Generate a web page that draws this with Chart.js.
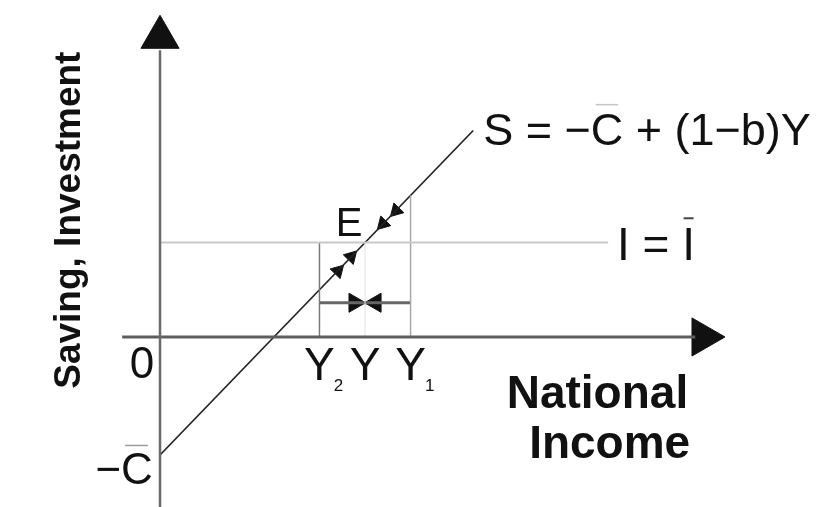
<!DOCTYPE html>
<html>
<head>
<meta charset="utf-8">
<script src="https://cdn.jsdelivr.net/npm/chart.js@4.4.1/dist/chart.umd.min.js"></script>
<style>
  html, body { margin: 0; padding: 0; background: #fff; }
  #chart { display: block; }
</style>
</head>
<body>
<canvas id="chart" width="822" height="507"></canvas>
<script>
// Saving line S = -C + (1-b)Y against autonomous investment I
const sLineIncome = [0, 110];
const sLineSaving = [-10, 17.5];
const investment = 8;
const investmentEnd = 157.4;

// Y2, Y (equilibrium), Y1
const incomeLevels = [56, 72, 88];
const incomeSubs = ['2', '', '1'];
const guideTops = [8, 8, 12];
const gapLevel = 2.9;

// arrowheads moving along the saving line
const upIncome = [62.5, 67.1];
const upSaving = [5.6, 6.8];
const downIncome = [78.3, 82.9];
const downSaving = [9.6, 10.7];

// axes
const yAxisSpan = [-14.5, 24.3];
const xAxisSpan = [-13.3, 188];
const yArrowAt = 25.4;
const xArrowAt = 190.7;

const FONT = "'Liberation Sans', Arial, sans-serif";

function pts(xs, ys) {
  return xs.map((x, i) => ({ x: x, y: ys[i] }));
}

function lineSet(data, color, width, dash) {
  return {
    data: data,
    showLine: true,
    borderColor: color,
    borderWidth: width,
    borderDash: dash || [],
    pointRadius: 0,
    pointHoverRadius: 0,
    fill: false
  };
}

function arrowSet(data, rotation, radius) {
  return {
    data: data,
    showLine: false,
    pointStyle: 'triangle',
    pointRotation: rotation,
    pointRadius: radius,
    pointHoverRadius: radius,
    pointBackgroundColor: '#111',
    pointBorderColor: '#111',
    pointBorderWidth: 1
  };
}

const datasets = [
  lineSet(pts([0, 0], yAxisSpan), '#6a6a6a', 2.5),
  lineSet(pts(xAxisSpan, [0, 0]), '#5e5e5e', 3),
  lineSet(pts([0, investmentEnd], [investment, investment]), '#c9c9c9', 2),
  lineSet(pts([incomeLevels[0], incomeLevels[0]], [0, guideTops[0]]), '#7a7a7a', 1.5),
  lineSet(pts([incomeLevels[1], incomeLevels[1]], [0, guideTops[1]]), '#e2e2e2', 1),
  lineSet(pts([incomeLevels[2], incomeLevels[2]], [0, guideTops[2]]), '#a8a8a8', 1.5),
  lineSet(pts([incomeLevels[0], incomeLevels[2]], [gapLevel, gapLevel]), '#666', 3),
  lineSet(pts(sLineIncome, sLineSaving), '#222', 1.7),
  arrowSet(pts(upIncome, upSaving), 44, 8),
  arrowSet(pts(downIncome, downSaving), 224, 8),
  arrowSet([{ x: 68.3, y: gapLevel }], 90, 11),
  arrowSet([{ x: 75.7, y: gapLevel }], 270, 11),
  arrowSet([{ x: 0, y: yArrowAt }], 0, 22),
  arrowSet([{ x: xArrowAt, y: 0 }], 90, 22)
];

// text placed in data coordinates
const labelPlugin = {
  id: 'diagramLabels',
  afterDatasetsDraw(chart) {
    const ctx = chart.ctx;
    const px = v => chart.scales.x.getPixelForValue(v);
    const py = v => chart.scales.y.getPixelForValue(v);

    function bar(x0, x1, y, color, w) {
      ctx.save();
      ctx.strokeStyle = color;
      ctx.lineWidth = w;
      ctx.beginPath();
      ctx.moveTo(x0, y);
      ctx.lineTo(x1, y);
      ctx.stroke();
      ctx.restore();
    }

    ctx.save();
    ctx.fillStyle = '#111';
    ctx.textBaseline = 'alphabetic';

    // saving function
    ctx.font = '45px ' + FONT;
    ctx.textAlign = 'left';
    let x = px(113.5), y = py(16.3);
    ctx.fillText('S = \u2212C + (1\u2212b)Y', x, y);
    let pre = ctx.measureText('S = \u2212').width;
    let cw = ctx.measureText('C').width;
    bar(x + pre + 5, x + pre + cw - 5, y - 40, '#c4c4c4', 1.5);

    // investment
    ctx.font = '46px ' + FONT;
    x = px(160.5); y = py(6.5);
    ctx.fillText('I = I', x, y);
    pre = ctx.measureText('I = ').width;
    const iw = ctx.measureText('I').width;
    bar(x + pre + iw / 2 - 5, x + pre + iw / 2 + 5, y - 42, '#444', 2);

    // equilibrium
    ctx.font = '40px ' + FONT;
    ctx.textAlign = 'center';
    ctx.fillText('E', px(66.4), py(8.56));

    // origin and intercept
    ctx.font = '44px ' + FONT;
    ctx.fillText('0', px(-6.3), py(-3.47));
    ctx.textAlign = 'right';
    x = px(-2.5); y = py(-12.5);
    ctx.fillText('\u2212C', x, y);
    cw = ctx.measureText('C').width;
    bar(x - cw + 4, x - 5, y - 39, '#9a9a9a', 1.5);

    // income levels
    incomeLevels.forEach((lvl, i) => {
      ctx.font = '46px ' + FONT;
      ctx.textAlign = 'center';
      const cx = px(lvl), by = py(-3.64);
      ctx.fillText('Y', cx, by);
      if (incomeSubs[i]) {
        const yw = ctx.measureText('Y').width;
        ctx.font = '17px ' + FONT;
        ctx.textAlign = 'left';
        ctx.fillText(incomeSubs[i], cx + yw / 2 - 1, by + 11);
      }
    });

    // axis titles
    ctx.font = 'bold 46px ' + FONT;
    ctx.textAlign = 'right';
    ctx.fillText('National', px(185.5), py(-6.0));
    ctx.fillText('Income', px(186.2), py(-10.25));

    ctx.save();
    ctx.translate(px(-28.1), py(9.9));
    ctx.rotate(-Math.PI / 2);
    ctx.font = 'bold 37px ' + FONT;
    ctx.textAlign = 'center';
    ctx.fillText('Saving, Investment', 0, 0);
    ctx.restore();

    ctx.restore();
  }
};

new Chart(document.getElementById('chart').getContext('2d'), {
  type: 'scatter',
  data: { datasets: datasets },
  options: {
    responsive: false,
    animation: false,
    events: [],
    layout: { padding: 0, autoPadding: false },
    plugins: { legend: { display: false }, tooltip: { enabled: false } },
    scales: {
      x: { type: 'linear', min: -56.2, max: 232.5, display: false },
      y: { type: 'linear', min: -14.41, max: 28.56, display: false }
    }
  },
  plugins: [labelPlugin]
});
</script>
</body>
</html>
